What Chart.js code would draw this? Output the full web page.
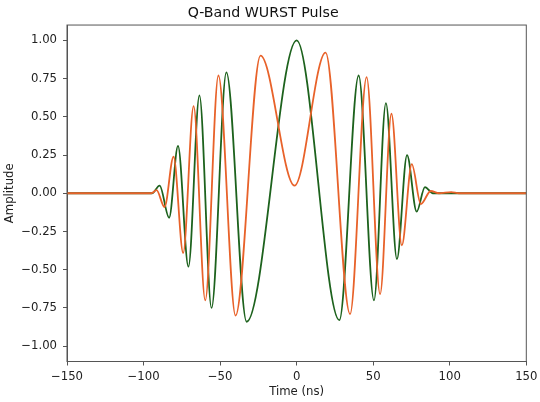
<!DOCTYPE html>
<html>
<head>
<meta charset="utf-8">
<script src="https://cdn.jsdelivr.net/npm/chart.js@4.4.0/dist/chart.umd.min.js"></script>
<style>
  html, body { margin: 0; padding: 0; background: #fff; }
  #wrap { width: 540px; height: 402px; }
</style>
</head>
<body>
<div id="wrap"><canvas id="pulse" width="540" height="402"></canvas></div>
<script>
// values (peaks, troughs and the flat ends)
const greenTime = [-150, -94.5, -89.5, -83.3, -77.5, -70.7, -63.5, -55.6, -45.9, -32.7, 0, 27.9, 40.5, 50.5, 58.3, 65.5, 72.1, 78.4, 83.8, 89, 150];
const greenAmp  = [0, 0, 0.05, -0.16, 0.31, -0.48, 0.64, -0.75, 0.79, -0.84, 1.0, -0.83, 0.77, -0.70, 0.59, -0.43, 0.25, -0.12, 0.04, 0, 0];

const orangeTime = [-150, -95, -91.5, -86.3, -80.4, -74.1, -67.3, -59.7, -51.1, -39.9, -23.6, -1.4, 18.9, 34.9, 45.7, 54.5, 61.9, 68.7, 75.2, 81.1, 87.6, 93, 101, 106, 150];
const orangeAmp  = [0, 0, 0.02, -0.09, 0.24, -0.39, 0.57, -0.70, 0.77, -0.80, 0.90, 0.05, 0.92, -0.79, 0.76, -0.66, 0.52, -0.34, 0.19, -0.07, 0.015, 0, 0.008, 0, 0];

const xTicks = [-150, -100, -50, 0, 50, 100, 150];
const yTicks = [-1, -0.75, -0.5, -0.25, 0, 0.25, 0.5, 0.75, 1];

const axisColor = '#555';
const textColor = '#222';

function toPoints(xs, ys) {
  return xs.map((x, i) => ({ x: x, y: ys[i] }));
}

// matplotlib style minus sign
function fmt(v, digits) {
  const s = digits ? v.toFixed(digits) : String(v);
  return s.replace('-', '\u2212');
}

Chart.defaults.font.family = 'DejaVu Sans';

// full box round the plot, like the matplotlib spines
const frame = {
  id: 'frame',
  afterDraw(chart) {
    const a = chart.chartArea;
    const c = chart.ctx;
    c.save();
    c.strokeStyle = axisColor;
    c.lineWidth = 1;
    c.strokeRect(a.left, a.top, a.right - a.left, a.bottom - a.top);
    c.restore();
  }
};

new Chart(document.getElementById('pulse'), {
  type: 'line',
  data: {
    datasets: [
      {
        label: 'Real',
        data: toPoints(greenTime, greenAmp),
        borderColor: '#1d621d',
        borderWidth: 1.8,
        pointRadius: 0,
        cubicInterpolationMode: 'monotone',
        order: 1
      },
      {
        label: 'Imag',
        data: toPoints(orangeTime, orangeAmp),
        borderColor: '#e8622a',
        borderWidth: 1.8,
        pointRadius: 0,
        cubicInterpolationMode: 'monotone',
        order: 0
      }
    ]
  },
  options: {
    responsive: false,
    animation: false,
    layout: { padding: { left: 0, right: 13.7, top: 0, bottom: 0 } },
    plugins: {
      legend: { display: false },
      tooltip: { enabled: false },
      title: {
        display: true,
        text: 'Q-Band WURST Pulse',
        color: '#111',
        font: { size: 14.2, weight: 'normal' },
        padding: { top: 5, bottom: 3 }
      }
    },
    scales: {
      x: {
        type: 'linear',
        min: -150,
        max: 150,
        afterBuildTicks: s => { s.ticks = xTicks.map(v => ({ value: v })); },
        afterFit: s => { s.height = 40.5; s.paddingLeft = 0; s.paddingRight = 0; },
        ticks: {
          callback: v => fmt(v, 0),
          color: textColor,
          font: { size: 11.7 },
          padding: 4,
          maxRotation: 0,
          autoSkip: false
        },
        grid: { drawOnChartArea: false, tickLength: 4, color: axisColor },
        border: { color: axisColor, width: 1 },
        title: {
          display: true,
          text: 'Time (ns)',
          color: textColor,
          font: { size: 11.7 },
          padding: { top: 2, bottom: 3 }
        }
      },
      y: {
        min: -1.1,
        max: 1.1,
        afterBuildTicks: s => { s.ticks = yTicks.map(v => ({ value: v })); },
        afterFit: s => { s.width = 67; },
        ticks: {
          callback: v => fmt(v, 2),
          color: textColor,
          font: { size: 11.7 },
          padding: 6,
          autoSkip: false
        },
        grid: { drawOnChartArea: false, tickLength: 4, color: axisColor },
        border: { color: axisColor, width: 1 },
        title: {
          display: true,
          text: 'Amplitude',
          color: textColor,
          font: { size: 11.7 },
          padding: { top: 3, bottom: 2 }
        }
      }
    }
  },
  plugins: [frame]
});
</script>
</body>
</html>
